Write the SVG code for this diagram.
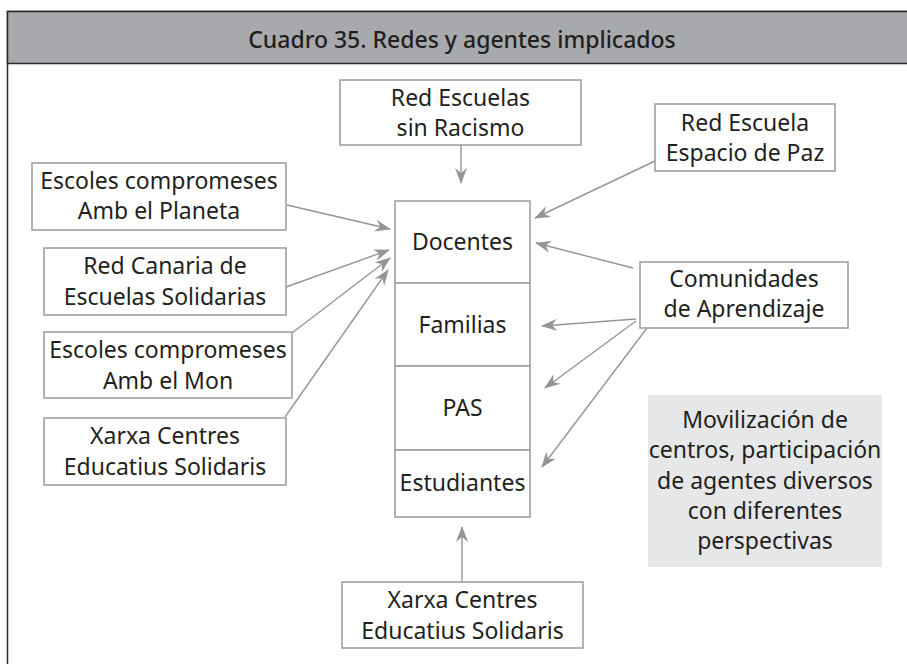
<svg xmlns="http://www.w3.org/2000/svg" width="907" height="664" viewBox="0 0 907 664">
<style>
.box{fill:#fff;stroke:#a0a1a3;stroke-width:1.6}
.t{font-family:"Noto Sans","Open Sans","DejaVu Sans",sans-serif;font-size:23px;fill:#231f20;text-anchor:middle}
.title{font-family:"Noto Sans","Open Sans","DejaVu Sans",sans-serif;font-size:23px;font-weight:500;fill:#231f20;text-anchor:middle}
.c{stroke:#939598;stroke-width:1.4;fill:none;marker-end:url(#ah)}
</style>
<defs>
<marker id="ah" viewBox="0 0 16 12" refX="15" refY="6" markerWidth="16" markerHeight="12" markerUnits="userSpaceOnUse" orient="auto">
<path d="M0,0 L16,6 L0,12 L5,6 Z" fill="#939598"/>
</marker>
</defs>
<rect x="0" y="0" width="907" height="664" fill="#fff"/>
<g id="frame">
<rect x="7.5" y="11.5" width="910" height="670" fill="#fff" stroke="#2b2b2b" stroke-width="1.5"/>
<rect x="7.5" y="11.5" width="910" height="52" fill="#a7a9ac" stroke="#2b2b2b" stroke-width="1.5"/>
<text class="title" x="462" y="48">Cuadro 35. Redes y agentes implicados</text>
</g>
<g id="connectors">
<line class="c" x1="461" y1="145" x2="461" y2="183"/>
<line class="c" x1="655" y1="161" x2="535" y2="218"/>
<line class="c" x1="633" y1="268" x2="536" y2="243"/>
<line class="c" x1="636" y1="319" x2="542" y2="326"/>
<line class="c" x1="636" y1="321" x2="545" y2="388"/>
<line class="c" x1="647" y1="328" x2="542" y2="467"/>
<line class="c" x1="287" y1="205" x2="390" y2="229"/>
<line class="c" x1="286" y1="287" x2="389" y2="250"/>
<line class="c" x1="292" y1="333" x2="390" y2="258"/>
<line class="c" x1="285" y1="417" x2="388" y2="270"/>
<line class="c" x1="462" y1="582" x2="462" y2="527"/>
</g>
<g id="red-escuelas-sin-racismo">
<rect class="box" x="340" y="80" width="241" height="65"/>
<text class="t" x="460.5" y="106">Red Escuelas</text>
<text class="t" x="460.5" y="136">sin Racismo</text>
</g>
<g id="red-escuela-espacio-paz">
<rect class="box" x="655" y="104" width="180" height="67"/>
<text class="t" x="745" y="131">Red Escuela</text>
<text class="t" x="745" y="161">Espacio de Paz</text>
</g>
<g id="escoles-planeta">
<rect class="box" x="32" y="163" width="254" height="67"/>
<text class="t" x="159" y="189">Escoles compromeses</text>
<text class="t" x="159" y="219">Amb el Planeta</text>
</g>
<g id="red-canaria">
<rect class="box" x="44" y="248" width="242" height="67"/>
<text class="t" x="165" y="274">Red Canaria de</text>
<text class="t" x="165" y="305">Escuelas Solidarias</text>
</g>
<g id="escoles-mon">
<rect class="box" x="44" y="332" width="248" height="66"/>
<text class="t" x="168" y="358">Escoles compromeses</text>
<text class="t" x="168" y="389">Amb el Mon</text>
</g>
<g id="xarxa-left">
<rect class="box" x="44" y="418" width="242" height="67"/>
<text class="t" x="165" y="444">Xarxa Centres</text>
<text class="t" x="165" y="475">Educatius Solidaris</text>
</g>
<g id="comunidades">
<rect class="box" x="640" y="262" width="208" height="66"/>
<text class="t" x="744" y="287">Comunidades</text>
<text class="t" x="744" y="317">de Aprendizaje</text>
</g>
<g id="docentes">
<rect class="box" x="395" y="201" width="135" height="82"/>
<text class="t" x="462.5" y="250">Docentes</text>
</g>
<g id="familias">
<rect class="box" x="395" y="283" width="135" height="83"/>
<text class="t" x="462.5" y="333">Familias</text>
</g>
<g id="pas">
<rect class="box" x="395" y="366" width="135" height="84"/>
<text class="t" x="462.5" y="416">PAS</text>
</g>
<g id="estudiantes">
<rect class="box" x="395" y="450" width="135" height="67"/>
<text class="t" x="462.5" y="491">Estudiantes</text>
</g>
<g id="xarxa-bottom">
<rect class="box" x="342" y="582" width="241" height="66"/>
<text class="t" x="462.5" y="608">Xarxa Centres</text>
<text class="t" x="462.5" y="639">Educatius Solidaris</text>
</g>
<g id="nota">
<rect x="648" y="395" width="234" height="172" fill="#e6e7e8"/>
<text class="t" x="765" y="428">Movilización de</text>
<text class="t" x="765" y="458">centros, participación</text>
<text class="t" x="765" y="489">de agentes diversos</text>
<text class="t" x="765" y="519">con diferentes</text>
<text class="t" x="765" y="549">perspectivas</text>
</g>
</svg>
